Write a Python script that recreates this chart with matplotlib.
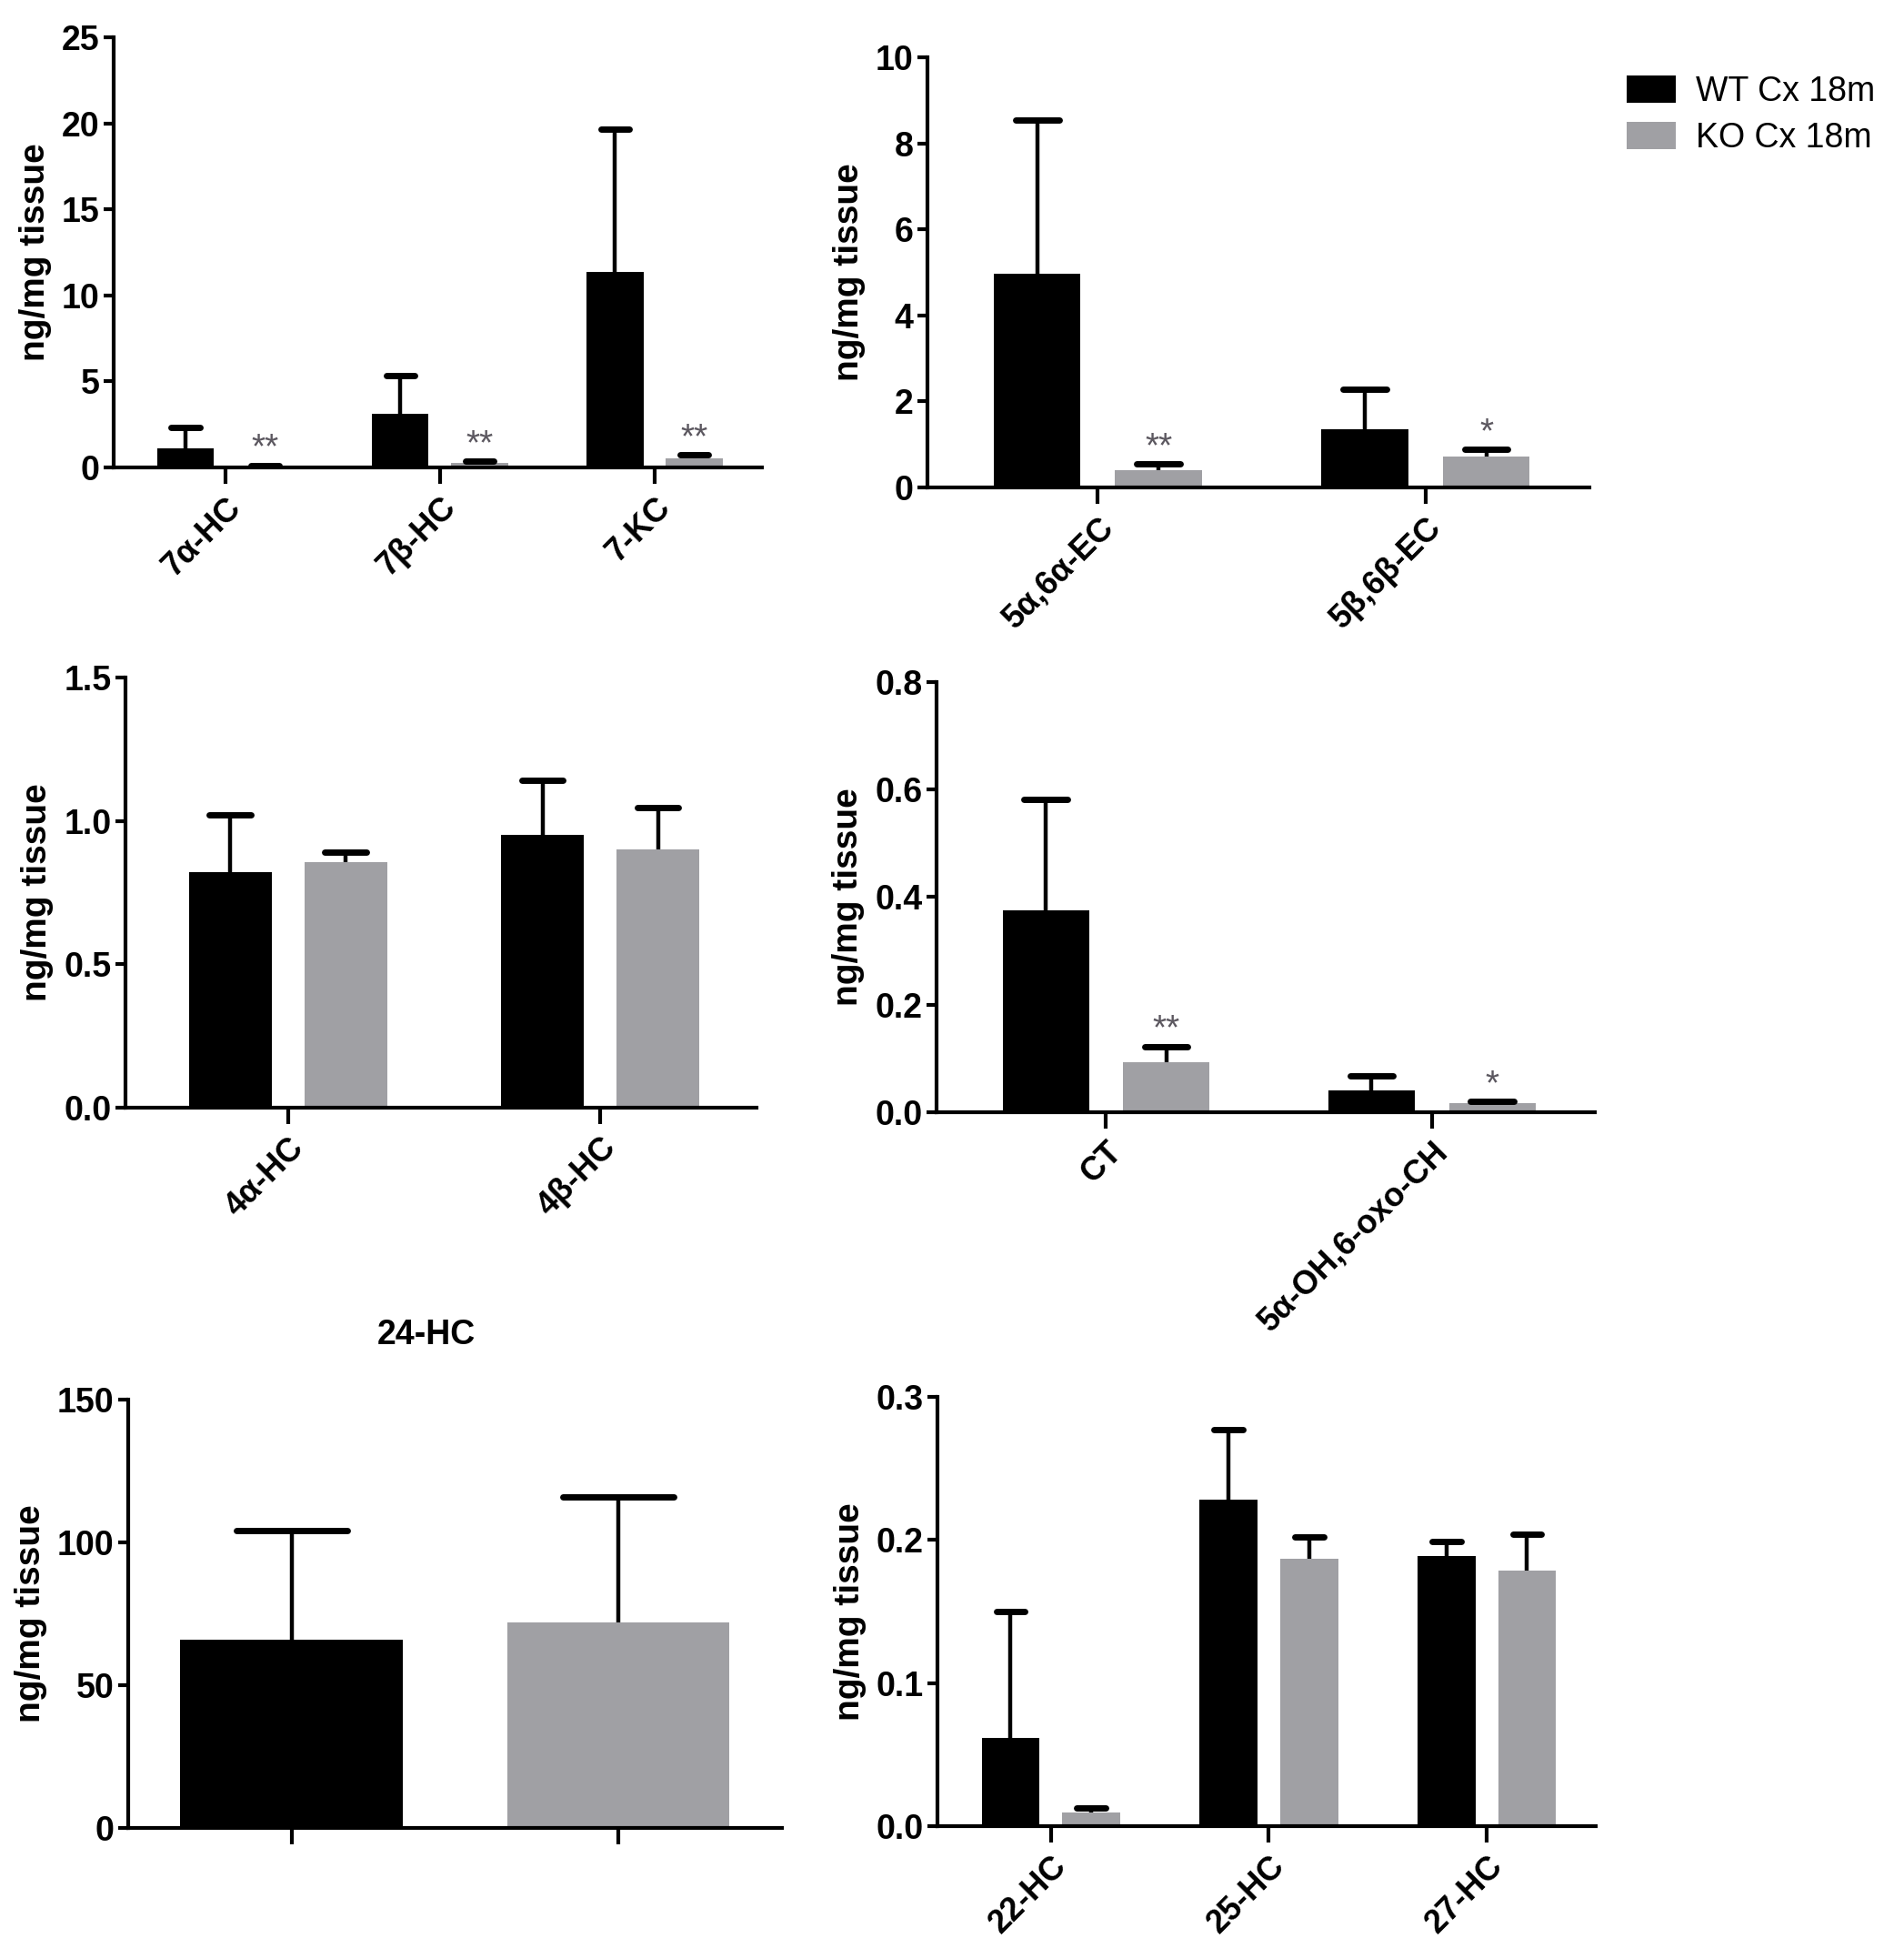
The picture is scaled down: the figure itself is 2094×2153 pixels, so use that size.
import numpy as np
import matplotlib
matplotlib.use('Agg')
import matplotlib.pyplot as plt
from matplotlib.patches import Patch
from matplotlib.ticker import FormatStrFormatter, MultipleLocator

plt.rcParams['font.family'] = ['Liberation Sans', 'DejaVu Sans']

wt_color = '#000000'
ko_color = '#a0a0a4'
star_color = '#5c5860'
series_names = ['WT Cx 18m', 'KO Cx 18m']

# 7-oxygenated
oxy7_labels = ['7α-HC', '7β-HC', '7-KC']
oxy7_wt = [1.08, 3.1, 11.35]
oxy7_wt_sd = [1.22, 2.23, 8.3]
oxy7_ko = [0.08, 0.25, 0.55]
oxy7_ko_sd = [0.04, 0.1, 0.18]
oxy7_stars = ['**', '**', '**']

# epoxides
epox_labels = ['5α,6α-EC', '5β,6β-EC']
epox_wt = [4.97, 1.36]
epox_wt_sd = [3.57, 0.92]
epox_ko = [0.41, 0.72]
epox_ko_sd = [0.14, 0.17]
epox_stars = ['**', '*']

# 4-hydroxy
hc4_labels = ['4α-HC', '4β-HC']
hc4_wt = [0.82, 0.95]
hc4_wt_sd = [0.2, 0.19]
hc4_ko = [0.855, 0.9]
hc4_ko_sd = [0.035, 0.145]

# triol etc.
ct_labels = ['CT', '5α-OH,6-oxo-CH']
ct_wt = [0.376, 0.041]
ct_wt_sd = [0.205, 0.026]
ct_ko = [0.093, 0.016]
ct_ko_sd = [0.029, 0.004]
ct_stars = ['**', '*']

# 24-HC
hc24_values = [66, 72]
hc24_sd = [38, 44]

# side-chain
side_labels = ['22-HC', '25-HC', '27-HC']
side_wt = [0.062, 0.228, 0.189]
side_wt_sd = [0.088, 0.049, 0.01]
side_ko = [0.0096, 0.187, 0.179]
side_ko_sd = [0.003, 0.015, 0.025]


def style_axis(ax, ymax, step, fmt):
    for s in ['top', 'right']:
        ax.spines[s].set_visible(False)
    for s in ['left', 'bottom']:
        ax.spines[s].set_linewidth(3)
    ax.set_ylim(0, ymax)
    ax.yaxis.set_major_locator(MultipleLocator(step))
    ax.yaxis.set_major_formatter(FormatStrFormatter(fmt))
    ax.tick_params(axis='y', length=8, width=3, labelsize=27, pad=3)
    ax.tick_params(axis='x', length=13, width=3, labelsize=26, pad=6)
    for t in ax.get_yticklabels():
        t.set_fontweight('bold')
    ax.set_ylabel('ng/mg tissue', fontsize=28, fontweight='bold', labelpad=8)


def err_up(ax, x, y, sd, w):
    top = np.array(y) + np.array(sd)
    ax.vlines(x, y, top, color='k', lw=3.2)
    caps = ax.hlines(top, np.array(x) - w / 4, np.array(x) + w / 4, color='k', lw=5)
    caps.set_capstyle('round')
    return top


def grouped(ax, labels, wt, wt_sd, ko, ko_sd, ymax, step, fmt, stars=None):
    x = np.arange(len(labels))
    w, off = 0.265, 0.185
    ax.bar(x - off, wt, w, color=wt_color)
    ax.bar(x + off, ko, w, color=ko_color)
    err_up(ax, x - off, wt, wt_sd, w)
    top = err_up(ax, x + off, ko, ko_sd, w)
    if stars:
        for xi, yi, s in zip(x + off, top, stars):
            ax.annotate(s, (xi, yi), xytext=(0, 0), textcoords='offset points',
                        ha='center', va='bottom', fontsize=28, color=star_color)
    ax.set_xlim(-0.52, len(labels) - 0.5)
    ax.set_xticks(x)
    ax.set_xticklabels(labels, rotation=45, ha='right', rotation_mode='anchor',
                       fontweight='bold')
    style_axis(ax, ymax, step, fmt)


fig = plt.figure(figsize=(20.94, 21.53), dpi=100)

ax1 = fig.add_axes([0.0597, 0.7613, 0.3405, 0.2197])
grouped(ax1, oxy7_labels, oxy7_wt, oxy7_wt_sd, oxy7_ko, oxy7_ko_sd, 25, 5, '%d', oxy7_stars)

ax2 = fig.add_axes([0.4871, 0.7510, 0.3477, 0.2197])
grouped(ax2, epox_labels, epox_wt, epox_wt_sd, epox_ko, epox_ko_sd, 10, 2, '%d', epox_stars)

ax3 = fig.add_axes([0.0659, 0.4343, 0.3314, 0.2197])
grouped(ax3, hc4_labels, hc4_wt, hc4_wt_sd, hc4_ko, hc4_ko_sd, 1.5, 0.5, '%.1f')

ax4 = fig.add_axes([0.4919, 0.4320, 0.3457, 0.2197])
grouped(ax4, ct_labels, ct_wt, ct_wt_sd, ct_ko, ct_ko_sd, 0.8, 0.2, '%.1f', ct_stars)

ax5 = fig.add_axes([0.0673, 0.0664, 0.3434, 0.2188])
x5 = np.arange(2)
ax5.bar(x5, hc24_values, 0.68, color=[wt_color, ko_color])
err_up(ax5, x5, hc24_values, hc24_sd, 0.68)
ax5.set_xlim(-0.5, 1.5)
ax5.set_xticks(x5)
ax5.set_xticklabels(['', ''])
style_axis(ax5, 150, 50, '%d')
ax5.set_title('24-HC', fontsize=27, fontweight='bold', pad=44, x=0.456)

ax6 = fig.add_axes([0.4924, 0.0673, 0.3457, 0.2192])
grouped(ax6, side_labels, side_wt, side_wt_sd, side_ko, side_ko_sd, 0.3, 0.1, '%.1f')

handles = [Patch(facecolor=wt_color), Patch(facecolor=ko_color)]
fig.legend(handles, series_names, loc='upper left', bbox_to_anchor=(0.838, 0.977),
           frameon=False, fontsize=27, handlelength=1.45, handleheight=0.85,
           labelspacing=0.4, handletextpad=0.6)

fig.savefig('out.png', dpi=100)
